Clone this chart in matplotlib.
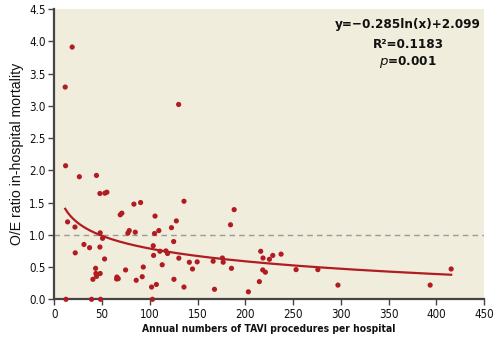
import matplotlib
matplotlib.use("Agg")
import matplotlib.pyplot as plt
from matplotlib import font_manager
import numpy as np

# ---- data ----
volume = [11.5, 18.8, 11.9, 26.3, 44.2, 130.2,
          14.0, 21.7, 22.0, 31.1, 37.0, 40.5, 43.3, 43.6, 44.3,
          47.8, 47.8, 48.1, 48.1, 50.6, 53.0, 55.1, 52.7,
          65.3, 65.6, 67.0, 69.1, 70.8, 74.7, 77.1, 78.5, 83.4, 84.8, 85.8,
          90.4, 92.1, 93.2, 101.9, 103.6, 104.0, 105.5, 105.0, 106.9, 109.5,
          110.6, 113.0, 116.9, 118.6, 122.7, 125.0, 125.3, 127.8, 130.4,
          135.8, 135.8, 141.4, 144.7, 149.6, 166.3, 167.7, 176.0, 176.8,
          184.5, 185.5, 188.3, 203.2,
          216.1, 218.5, 225.2, 228.7, 237.4, 218.2, 221.0, 214.7,
          253.1, 275.9, 296.9, 393.4, 415.4,
          12.3, 39.1, 48.5, 102.8]
oe_ratio = [3.29, 3.91, 2.07, 1.90, 1.92, 3.02,
            1.20, 1.12, 0.72, 0.85, 0.80, 0.31, 0.48, 0.40, 0.355,
            1.64, 0.81, 1.03, 0.40, 0.945, 1.645, 1.66, 0.625,
            0.315, 0.345, 0.32, 1.31, 1.335, 0.455, 1.025, 1.065, 1.475, 1.04, 0.295,
            1.50, 0.35, 0.50, 0.19, 0.83, 0.68, 1.29, 1.02, 0.23, 1.065,
            0.745, 0.535, 0.75, 0.71, 1.11, 0.895, 0.31, 1.215, 0.638,
            1.52, 0.19, 0.574, 0.47, 0.58, 0.59, 0.155, 0.64, 0.575,
            1.155, 0.48, 1.39, 0.116,
            0.744, 0.64, 0.62, 0.68, 0.70, 0.455, 0.42, 0.274,
            0.46, 0.46, 0.22, 0.22, 0.47,
            0.0, 0.0, 0.0, 0.0]
fit_slope = -0.285
fit_intercept = 2.099
eq_lines = ["y=\u22120.285ln(x)+2.099", "R\u00b2=0.1183", "$p$=0.001"]
x_ticks = [0, 50, 100, 150, 200, 250, 300, 350, 400, 450]
y_ticks = [0.0, 0.5, 1.0, 1.5, 2.0, 2.5, 3.0, 3.5, 4.0, 4.5]

# ---- look for a condensed / narrow face ----
cond_stretch = {"condensed", "semi-condensed", "extra-condensed", "ultra-condensed", "narrow"}
cands = []
for f in font_manager.fontManager.ttflist:
    nm = f.name.lower()
    if (str(f.stretch).lower() in cond_stretch or "narrow" in nm or "condensed" in nm
            or "narrow" in f.fname.lower() or "condensed" in f.fname.lower()):
        cands.append(f)

def pick(bold):
    for f in cands:
        w = f.weight if isinstance(f.weight, int) else (700 if "bold" in str(f.weight).lower() else 400)
        if ("italic" in f.style) or ("oblique" in f.style):
            continue
        if (w >= 600) if bold else (350 <= w <= 500):
            return f
    return None

fb = pick(True)
fr = pick(False)

def bold_props(size):
    if fb is not None:
        fp = font_manager.FontProperties(fname=fb.fname)
        fp.set_size(size)
        return fp
    return font_manager.FontProperties(family="Roboto", weight="bold", size=size * 0.95)

def reg_props(size):
    if fr is not None:
        fp = font_manager.FontProperties(fname=fr.fname)
        fp.set_size(size)
        return fp
    return font_manager.FontProperties(family="Roboto", size=size * 0.95)

red = "#B01C22"
fig = plt.figure(figsize=(5.02, 3.43), dpi=100)
ax = fig.add_axes([0.108, 0.1274, 0.8566, 0.8464])
ax.set_facecolor("#F1EDDC")

ax.axhline(1.0, color="#9a9a9a", lw=1.0, ls=(0, (4, 3)), zorder=1)
xs = np.linspace(min(volume), max(volume), 400)
ax.plot(xs, fit_slope * np.log(xs) + fit_intercept, color=red, lw=1.6, zorder=2)
ax.scatter(volume, oe_ratio, s=14, color=red, edgecolors="none", zorder=3, clip_on=False)

ax.set_xlim(0, 450)
ax.set_ylim(0, 4.5)
ax.set_xticks(x_ticks)
ax.set_yticks(y_ticks)
ax.set_xticklabels([str(v) for v in x_ticks])
ax.set_yticklabels([f"{v:.1f}" for v in y_ticks])
for s in ["top", "right"]:
    ax.spines[s].set_visible(False)
for s in ["left", "bottom"]:
    ax.spines[s].set_color("#444444")
    ax.spines[s].set_linewidth(1.6)
ax.tick_params(direction="out", length=4, width=1.0, color="#444444",
               labelcolor="#111111", pad=2)
for lab in ax.get_xticklabels() + ax.get_yticklabels():
    lab.set_fontproperties(reg_props(8.3))

ax.set_ylabel("O/E ratio in-hospital mortality", fontsize=10.2, family="Liberation Sans",
              color="#111111")
ax.yaxis.set_label_coords(-0.087, 0.5)
ax.yaxis.label.set_va("center")
ax.set_xlabel("Annual numbers of TAVI procedures per hospital", color="#111111",
              fontproperties=bold_props(7.4))
ax.xaxis.set_label_coords(0.5, -0.104)
ax.xaxis.label.set_va("center")

eq_y = [0.945, 0.877, 0.816]
for t, yy in zip(eq_lines, eq_y):
    ax.text(0.8226, yy, t, transform=ax.transAxes, ha="center", va="center",
            color="#111111", fontproperties=bold_props(9.6))

fig.savefig("out.png", dpi=100)
